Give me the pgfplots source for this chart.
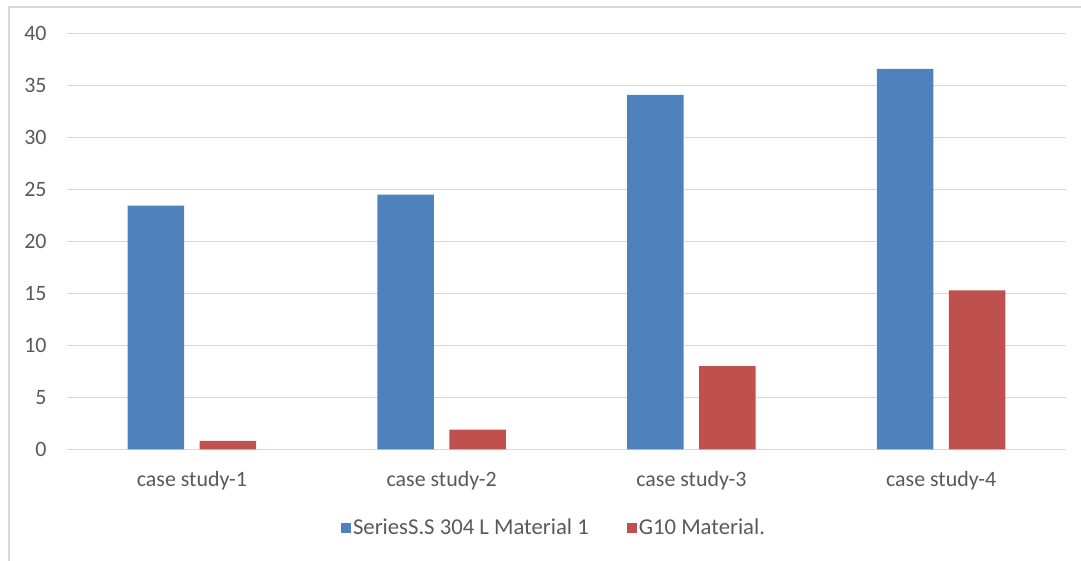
\documentclass[border=0pt]{standalone}
\usepackage{pgfplots}
\pgfplotsset{compat=1.18}
\usepackage{fontspec}
\setmainfont{Carlito}

\definecolor{ssblue}{HTML}{4F81BD}
\definecolor{gred}{HTML}{C0504D}
\definecolor{gridgray}{HTML}{D9D9D9}
\definecolor{labelgray}{HTML}{595959}

\begin{document}
\begin{tikzpicture}
\path[use as bounding box] (0,0) rectangle (540.5bp,280.5bp);
% chart frame
\draw[gridgray, line width=0.75bp] (4.5bp,0) -- (4.5bp,277bp) -- (541bp,277bp);
\begin{axis}[
  at={(33.5bp,55.85bp)}, anchor=south west,
  scale only axis,
  width=499.5bp, height=207.9bp,
  xmin=-0.5, xmax=3.5,
  ymin=0, ymax=40,
  ybar=7.75bp,
  bar width=28.25bp,
  axis line style={draw=none},
  xtick={0,1,2,3},
  xticklabels={case study-1, case study-2, case study-3, case study-4},
  ytick={0,5,...,40},
  major tick length=0pt,
  ymajorgrids,
  grid style={gridgray, line width=0.75bp},
  /pgf/number format/assume math mode=true,
  tick label style={font=\fontsize{11}{13}\selectfont, text=labelgray},
  yticklabel style={anchor=east, inner sep=0pt, xshift=-10bp},
  xticklabel style={anchor=north, inner sep=0pt, yshift=-11bp},
  legend columns=2,
  legend style={draw=none, fill=none,
    at={(axis description cs:0.4875,-0.189)}, anchor=center,
    font=\fontsize{11.4}{13}\selectfont, text=labelgray,
    nodes={inner sep=1bp},
    /tikz/every even column/.append style={column sep=18bp}},
  legend image code/.code={\fill[#1] (0bp,-2.5bp) rectangle (5bp,2.5bp);},
]
\addplot[fill=ssblue, draw=none] coordinates {(0,23.45) (1,24.5) (2,34.1) (3,36.6)};
\addplot[fill=gred, draw=none] coordinates {(0,0.8) (1,1.9) (2,8.0) (3,15.3)};
\legend{SeriesS.S 304 L Material 1, G10 Material.}
\end{axis}
\end{tikzpicture}
\end{document}
